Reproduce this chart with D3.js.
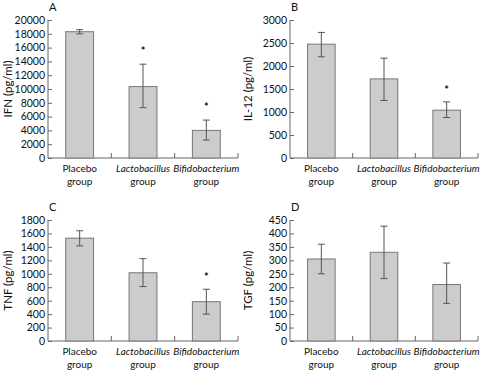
<!DOCTYPE html>
<html><head><meta charset="utf-8">
<script src="https://cdn.jsdelivr.net/npm/d3@7"></script>
<style>
body{margin:0;background:#fff;}
svg text{font-family:Lato,"Noto Sans","DejaVu Sans",sans-serif;fill:#111;}
</style></head>
<body><svg id="c" width="481" height="371"></svg>
<script>
const groups = ["Placebo", "Lactobacillus", "Bifidobacterium"];
const groupItalic = [false, true, true];

const ifnMean = [18300, 10350, 4000];
const ifnLow  = [18000, 7300, 2600];
const ifnHigh = [18600, 13600, 5500];
const ifnStar = [null, 15700, 7500];
const ifnTicks = [0,2000,4000,6000,8000,10000,12000,14000,16000,18000,20000];

const il12Mean = [2475, 1720, 1040];
const il12Low  = [2200, 1250, 880];
const il12High = [2730, 2170, 1220];
const il12Star = [null, null, 1510];
const il12Ticks = [0,500,1000,1500,2000,2500,3000];

const tnfMean = [1530, 1015, 585];
const tnfLow  = [1415, 810, 400];
const tnfHigh = [1640, 1225, 770];
const tnfStar = [null, null, 970];
const tnfTicks = [0,200,400,600,800,1000,1200,1400,1600,1800];

const tgfMean = [305, 330, 210];
const tgfLow  = [250, 232, 140];
const tgfHigh = [360, 427, 290];
const tgfStar = [null, null, null];
const tgfTicks = [0,50,100,150,200,250,300,350,400,450];

const panels = [
  {letter:"A", label:"IFN (pg/ml)", mean:ifnMean, low:ifnLow, high:ifnHigh, star:ifnStar, ticks:ifnTicks, x0:48, x1:238, yT:20, yB:158, labX:8},
  {letter:"B", label:"IL-12 (pg/ml)", mean:il12Mean, low:il12Low, high:il12High, star:il12Star, ticks:il12Ticks, x0:290, x1:478, yT:20, yB:158, labX:248},
  {letter:"C", label:"TNF (pg/ml)", mean:tnfMean, low:tnfLow, high:tnfHigh, star:tnfStar, ticks:tnfTicks, x0:48, x1:238, yT:220, yB:341, labX:8},
  {letter:"D", label:"TGF (pg/ml)", mean:tgfMean, low:tgfLow, high:tgfHigh, star:tgfStar, ticks:tgfTicks, x0:290, x1:478, yT:220, yB:341, labX:248}
];

const svg = d3.select("#c");
const axisCol = "#666";

panels.forEach(p => {
  const g = svg.append("g");
  const maxV = p.ticks[p.ticks.length-1];
  const y = d3.scaleLinear().domain([0, maxV]).range([p.yB, p.yT]);
  const x = d3.scaleBand().domain(groups).range([p.x0, p.x1]).paddingInner(0).paddingOuter(0);
  const bw = x.bandwidth() * 0.44;

  // y axis
  const ya = g.append("g").attr("transform", `translate(${p.x0},0)`)
    .call(d3.axisLeft(y).tickValues(p.ticks).tickSize(-4).tickPadding(3).tickFormat(d3.format("d")));
  ya.select(".domain").attr("stroke", axisCol).attr("d", `M0,${p.yB}V${p.yT}`);
  ya.selectAll(".tick line").attr("stroke", axisCol);
  ya.selectAll("text").attr("font-size", 10.5).attr("fill", "#111");

  // x axis baseline with inward ticks at band edges
  g.append("line").attr("x1", p.x0).attr("x2", p.x1).attr("y1", p.yB).attr("y2", p.yB).attr("stroke", axisCol);
  groups.forEach(d => {
    const xe = x(d) + x.bandwidth();
    g.append("line").attr("x1", xe).attr("x2", xe).attr("y1", p.yB).attr("y2", p.yB-5).attr("stroke", axisCol);
  });

  // bars
  g.selectAll("rect.bar").data(p.mean).join("rect")
    .attr("x", (d,i) => x(groups[i]) + (x.bandwidth()-bw)/2)
    .attr("y", d => y(d))
    .attr("width", bw)
    .attr("height", d => p.yB - y(d))
    .attr("fill", "#cccccc").attr("stroke", "#777").attr("stroke-width", 1);

  // error bars
  p.mean.forEach((m,i) => {
    const cx = x(groups[i]) + x.bandwidth()/2;
    g.append("line").attr("x1", cx).attr("x2", cx).attr("y1", y(p.low[i])).attr("y2", y(p.high[i])).attr("stroke", "#555");
    [p.low[i], p.high[i]].forEach(v => {
      g.append("line").attr("x1", cx-3.5).attr("x2", cx+3.5).attr("y1", y(v)).attr("y2", y(v)).attr("stroke", "#555");
    });
    if (p.star[i] != null) {
      g.append("text").attr("x", cx).attr("y", y(p.star[i]) + 5).attr("text-anchor", "middle")
        .attr("font-size", 11).attr("font-weight", "bold").text("*");
    }
    const t = g.append("text").attr("x", cx).attr("text-anchor", "middle").attr("font-size", 10);
    t.append("tspan").attr("x", cx).attr("y", p.yB + 14).attr("font-style", groupItalic[i] ? "italic" : "normal").text(groups[i]);
    t.append("tspan").attr("x", cx).attr("y", p.yB + 27).text("group");
  });

  // y label
  g.append("text").attr("transform", `translate(${p.labX + 4},${(p.yT+p.yB)/2}) rotate(-90)`)
    .attr("text-anchor", "middle").attr("font-size", 11.5).text(p.label);

  // panel letter
  g.append("text").attr("x", p.x0 + 1).attr("y", p.yT - 9).attr("font-size", 11).text(p.letter);
});
</script></body></html>
